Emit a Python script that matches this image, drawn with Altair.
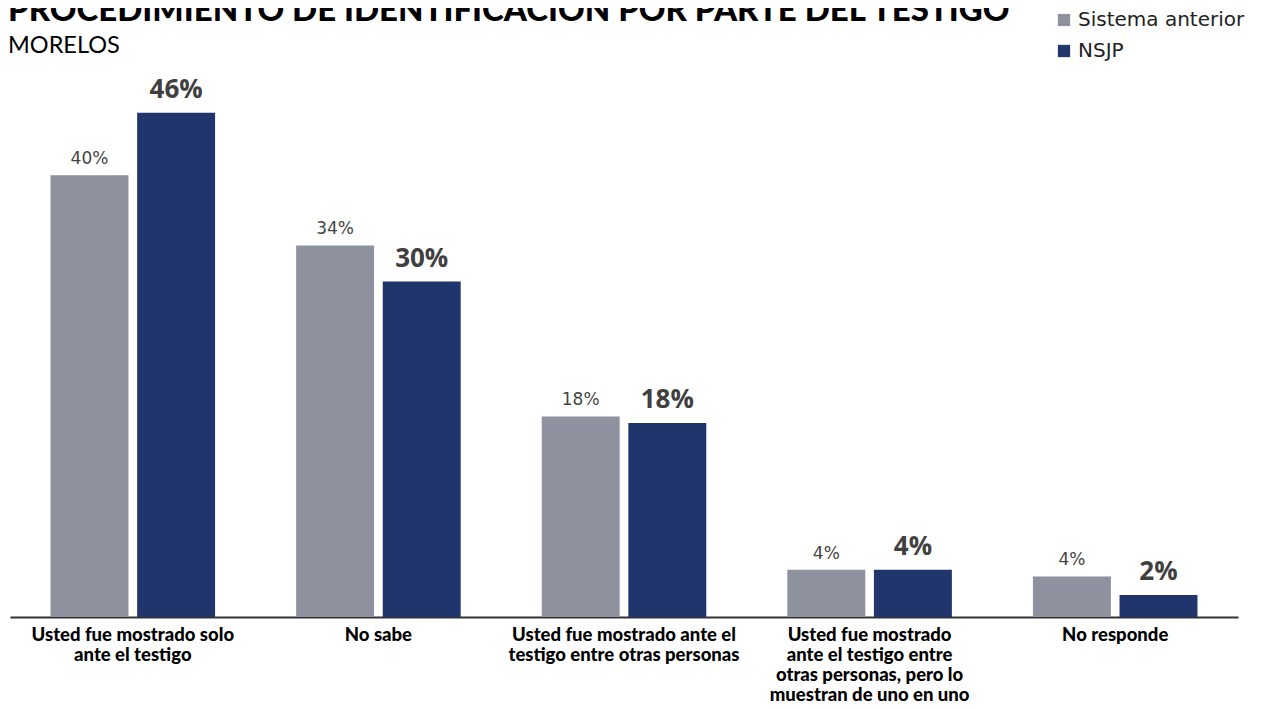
import altair as alt
import pandas as pd

categories = [
    "Usted fue mostrado solo|ante el testigo",
    "No sabe",
    "Usted fue mostrado ante el|testigo entre otras personas",
    "Usted fue mostrado|ante el testigo entre|otras personas, pero lo|muestran de uno en uno",
    "No responde",
]
series = ["Sistema anterior", "NSJP"]
sistema_anterior = [40.3, 33.9, 18.3, 4.3, 3.7]
nsjp = [46.0, 30.6, 17.7, 4.3, 2.0]
sistema_labels = ["40%", "34%", "18%", "4%", "4%"]
nsjp_labels = ["46%", "30%", "18%", "4%", "2%"]

rows = []
for i, c in enumerate(categories):
    rows.append({"cat": c, "serie": series[0], "valor": sistema_anterior[i], "etiqueta": sistema_labels[i]})
    rows.append({"cat": c, "serie": series[1], "valor": nsjp[i], "etiqueta": nsjp_labels[i]})
df = pd.DataFrame(rows)

colors = ["#8e929e", "#20356b"]

x = alt.X("cat:N", sort=categories, title=None,
          scale=alt.Scale(paddingInner=0.33, paddingOuter=0.165, round=False),
          axis=alt.Axis(labelAngle=0, labelExpr="split(datum.label, '|')",
                        labelFont="Lato", labelFontWeight=900, labelFontSize=18.5,
                        labelColor="#000000", labelLineHeight=20, labelPadding=17,
                        labelBaseline="middle",
                        ticks=False, domainColor="#333333", domainWidth=2,
                        labelLimit=300))
xo = alt.XOffset("serie:N", sort=series, scale=alt.Scale(paddingInner=0.1, paddingOuter=0, round=False))
y = alt.Y("valor:Q", scale=alt.Scale(domain=[0, 50]), axis=None)

base = alt.Chart(df)

bars = base.mark_bar().encode(
    x=x, xOffset=xo, y=y,
    color=alt.Color("serie:N", sort=series,
                    scale=alt.Scale(domain=series, range=colors),
                    legend=alt.Legend(title=None, orient="none", legendX=1044, legendY=-59,
                                      symbolType="square", symbolSize=150,
                                      symbolStrokeWidth=0,
                                      labelFont="DejaVu Sans", labelFontSize=20,
                                      labelColor="#222222", labelOffset=4,
                                      labelLimit=300, rowPadding=11)),
)

gray_labels = base.transform_filter(alt.datum.serie == series[0]).mark_text(
    font="DejaVu Sans", fontSize=17, color="#444444", baseline="alphabetic", dy=-11
).encode(x=x, xOffset=xo, y=y, text="etiqueta:N")

navy_labels = base.transform_filter(alt.datum.serie == series[1]).mark_text(
    font="Open Sans", fontSize=26, fontWeight="bold", color="#404040", baseline="alphabetic", dy=-15
).encode(x=x, xOffset=xo, y=y, text="etiqueta:N")

chart = alt.layer(bars, gray_labels, navy_labels).properties(
    width=1228, height=548,
    title=alt.TitleParams(
        text="PROCEDIMIENTO DE IDENTIFICACIÓN POR PARTE DEL TESTIGO",
        subtitle="MORELOS",
        anchor="start", frame="group", orient="top",
        font="Lato", fontSize=33, fontWeight=900, color="#000000",
        subtitleFont="Lato", subtitleFontSize=23.5, subtitleColor="#000000",
        subtitlePadding=6, offset=0, dx=-2, dy=47,
    ),
    autosize=alt.AutoSizeParams(type="none"),
    padding={"left": 2, "top": 61, "right": 17, "bottom": 84},
).configure_view(stroke=None)

chart.save("out.html", embed_options={"renderer": "svg", "actions": False})
